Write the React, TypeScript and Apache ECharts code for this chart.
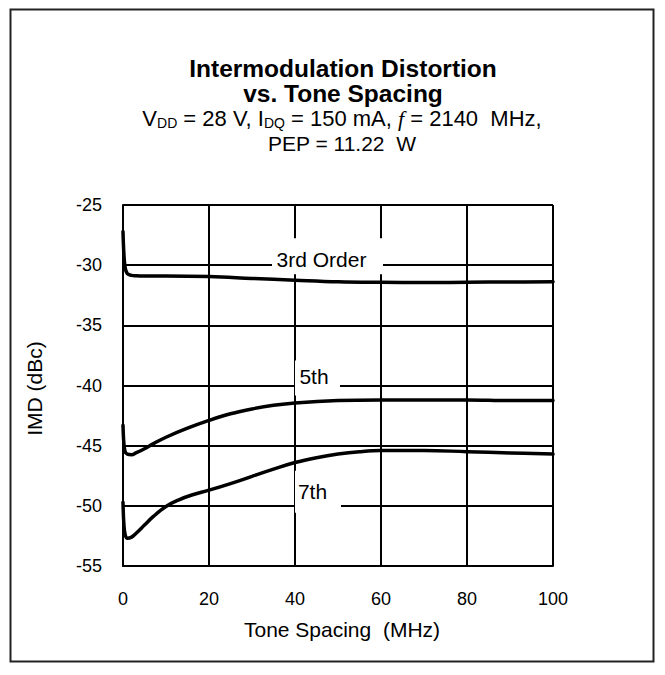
import React, { useEffect, useRef } from "react";
import * as echarts from "echarts";

const xTicks = [0, 20, 40, 60, 80, 100];
const yTicks = [-55, -50, -45, -40, -35, -30, -25];

const thirdX = [0, 0.2, 0.5, 1, 2, 3, 5, 10, 20, 30, 40, 50, 60, 70, 80, 90, 100];
const thirdY = [-27.2, -29.0, -30.2, -30.7, -30.85, -30.88, -30.9, -30.9, -30.95, -31.1, -31.25, -31.38, -31.43, -31.45, -31.42, -31.4, -31.38];

const fifthX = [0, 0.2, 0.5, 1, 2, 3, 5, 7, 10, 15, 20, 25, 30, 35, 40, 50, 60, 70, 80, 90, 100];
const fifthY = [-43.3, -44.8, -45.5, -45.7, -45.75, -45.6, -45.25, -44.85, -44.3, -43.55, -42.9, -42.35, -41.95, -41.65, -41.45, -41.25, -41.2, -41.2, -41.2, -41.25, -41.25];

const seventhX = [0, 0.2, 0.5, 1, 2, 3, 5, 7, 10, 13, 16, 20, 25, 30, 35, 40, 45, 50, 55, 60, 70, 80, 90, 100];
const seventhY = [-49.7, -51.5, -52.4, -52.7, -52.6, -52.3, -51.6, -50.9, -50.05, -49.5, -49.1, -48.7, -48.15, -47.55, -46.95, -46.4, -46.0, -45.7, -45.5, -45.4, -45.4, -45.5, -45.6, -45.7];

const curveLabels = ["3rd Order", "5th", "7th"];
const labelX = [47.56, 45.23, 45.35];
const labelY = [-29.25, -39.375, -48.83];

const zip = (xs: number[], ys: number[]) => xs.map((x, i) => [x, ys[i]]);

export default function App() {
  const ref = useRef<HTMLDivElement>(null);
  useEffect(() => {
    if (!ref.current) return;
    const chart = echarts.init(ref.current, undefined, { renderer: "svg" });
    const font = "Liberation Sans, Arial, sans-serif";
    const lineStyle = { color: "#000", width: 3.5, cap: "round", join: "round" };
    const boxSizes = [[111, 36], [45, 35], [46, 42]];
    const offsets = [[-6, 3], [-3.5, -1.5], [-5.5, -0.5]];
    chart.setOption({
      animation: false,
      backgroundColor: "#fff",
      textStyle: { fontFamily: font },
      grid: { left: 123, right: 112, top: 205, bottom: 109 },
      xAxis: {
        type: "value",
        min: xTicks[0],
        max: xTicks[xTicks.length - 1],
        interval: 20,
        name: "Tone Spacing  (MHz)",
        nameLocation: "middle",
        nameGap: 53,
        nameTextStyle: { fontSize: 21, color: "#000", fontFamily: font, padding: [0, 0, 0, 8] },
        axisLine: { show: true, lineStyle: { color: "#000", width: 2 } },
        axisTick: { show: false },
        axisLabel: { fontSize: 18, color: "#000", margin: 24, fontFamily: font },
        splitLine: { show: true, lineStyle: { color: "#000", width: 2 } },
      },
      yAxis: {
        type: "value",
        min: yTicks[0],
        max: yTicks[yTicks.length - 1],
        interval: 5,
        name: "IMD (dBc)",
        nameLocation: "middle",
        nameGap: 78,
        nameTextStyle: { fontSize: 21, color: "#000", fontFamily: font, padding: [0, 6, 0, 0] },
        axisLine: { show: true, lineStyle: { color: "#000", width: 2 } },
        axisTick: { show: false },
        axisLabel: { fontSize: 18, color: "#000", margin: 21, fontFamily: font },
        splitLine: { show: true, lineStyle: { color: "#000", width: 2 } },
      },
      series: [
        {
          name: "3rd Order",
          type: "line",
          data: zip(thirdX, thirdY),
          showSymbol: false,
          smooth: 0.4,
          lineStyle,
          markPoint: {
            silent: true,
            data: curveLabels.map((t, i) => ({
              coord: [labelX[i], labelY[i]],
              symbol: "rect",
              symbolSize: boxSizes[i],
              itemStyle: { color: "#fff" },
              label: {
                show: true,
                position: "inside",
                formatter: t,
                color: "#000",
                fontSize: 21,
                fontFamily: font,
                offset: offsets[i],
              },
            })),
          },
        },
        {
          name: "5th",
          type: "line",
          data: zip(fifthX, fifthY),
          showSymbol: false,
          smooth: 0.4,
          lineStyle,
        },
        {
          name: "7th",
          type: "line",
          data: zip(seventhX, seventhY),
          showSymbol: false,
          smooth: 0.4,
          lineStyle,
        },
      ],
      graphic: [
        {
          type: "rect",
          shape: { x: 10.5, y: 9.5, width: 643, height: 652 },
          style: { fill: "none", stroke: "#222", lineWidth: 2 },
          silent: true,
        },
        {
          type: "text",
          x: 343,
          y: 68,
          style: {
            text: "Intermodulation Distortion",
            fontSize: 24.5,
            fontWeight: "bold",
            fontFamily: font,
            fill: "#000",
            align: "center",
            verticalAlign: "middle",
          },
        },
        {
          type: "text",
          x: 343,
          y: 93,
          style: {
            text: "vs. Tone Spacing",
            fontSize: 24.5,
            fontWeight: "bold",
            fontFamily: font,
            fill: "#000",
            align: "center",
            verticalAlign: "middle",
          },
        },
        {
          type: "text",
          x: 342,
          y: 118,
          style: {
            text: "{n|V}{s|DD}{n| = 28 V, I}{s|DQ}{n| = 150 mA, }{i|f}{n| = 2140  MHz,}",
            fontSize: 22,
            fontFamily: font,
            fill: "#000",
            align: "center",
            verticalAlign: "middle",
            rich: {
              n: { fontSize: 22, fontFamily: font, color: "#000", lineHeight: 24, verticalAlign: "middle" },
              s: { fontSize: 14, fontFamily: font, color: "#000", lineHeight: 12, verticalAlign: "bottom" },
              i: { fontSize: 22, fontFamily: "Liberation Serif, serif", fontStyle: "italic", color: "#000", lineHeight: 24, verticalAlign: "middle" },
            },
          },
        },
        {
          type: "text",
          x: 342,
          y: 143,
          style: {
            text: "PEP = 11.22  W",
            fontSize: 21,
            fontFamily: font,
            fill: "#000",
            align: "center",
            verticalAlign: "middle",
          },
        },
      ],
    });
    return () => chart.dispose();
  }, []);
  return (
    <div
      ref={ref}
      style={{ position: "fixed", left: 0, top: 0, width: 665, height: 675, background: "#fff" }}
    />
  );
}
